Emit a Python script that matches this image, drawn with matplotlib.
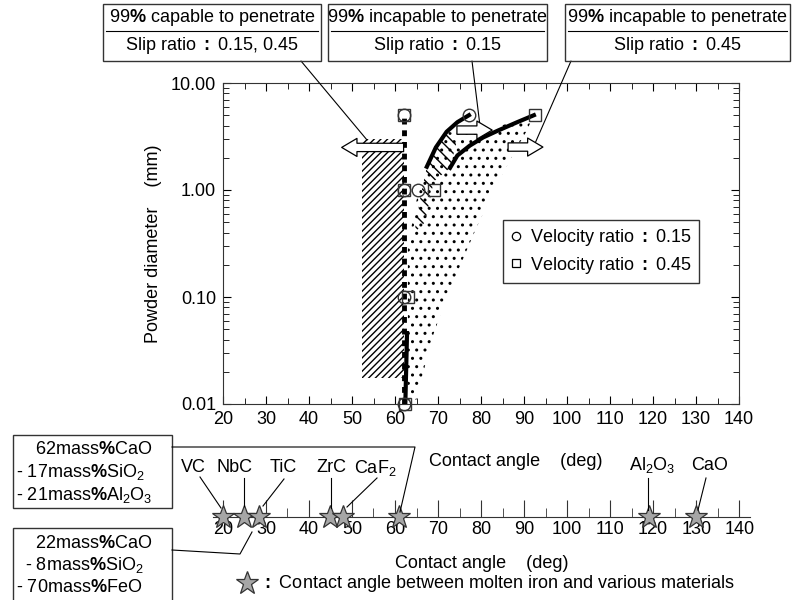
import numpy as np
import matplotlib.pyplot as plt
from matplotlib.lines import Line2D
from matplotlib.patches import Rectangle, Polygon, FancyArrowPatch

plt.rcParams['font.family'] = ['Liberation Sans', 'DejaVu Sans']
plt.rcParams['mathtext.fontset'] = 'custom'
plt.rcParams['mathtext.rm'] = 'Liberation Sans'
plt.rcParams['mathtext.it'] = 'Liberation Sans:italic'
plt.rcParams['mathtext.bf'] = 'Liberation Sans:bold'
plt.rcParams['font.size'] = 13

# measured points: contact angle (deg) vs powder diameter (mm)
circle_angle = [62, 62, 65.3, 62, 62, 77.2]
circle_diam = [5.0, 1.0, 1.0, 0.1, 0.01, 5.0]
square_angle = [62, 62, 69, 63, 62.3, 92.5]
square_diam = [5.0, 1.0, 1.0, 0.1, 0.01, 5.0]

# 99% capable boundary (both slip ratios)
capable_angle = [62, 62]
capable_diam = [0.01, 5.0]
solid_angle = [62.4, 62.8]
solid_diam = [0.01, 0.046]

# 99% incapable boundaries
curve015_angle = [67.4, 69.5, 72.0, 74.5, 77.2]
curve015_diam = [1.65, 2.5, 3.5, 4.3, 5.0]
curve045_angle = [72.8, 74.5, 77.4, 80.5, 84.0, 88.4, 92.3]
curve045_diam = [1.61, 2.1, 2.6, 3.1, 3.6, 4.3, 5.0]

# shaded regions
hatch_angle = [52.3, 62.0]
hatch_diam = [0.0175, 3.0]
stip_left_angle = [65, 63, 63, 65, 67.4, 69.5, 72.0]
stip_left_diam = [0.011, 0.011, 0.3, 0.8, 1.65, 2.5, 3.5]
stip_top_angle = [77.4, 84.0, 88.4, 92.3]
stip_top_diam = [3.3, 3.9, 4.5, 5.0]
stip_right_angle = [90.5, 87, 83, 79, 72, 68.5]
stip_right_diam = [3.5, 2.0, 1.0, 0.45, 0.1, 0.04]
back_angle = [64.5, 66, 67.4, 69.5, 72, 74.5, 72.8, 69, 67]
back_diam = [0.4, 0.9, 1.65, 2.5, 3.5, 3.0, 1.61, 1.2, 0.5]

# contact angle between molten iron and materials
materials = ['VC', 'NbC', 'TiC', 'ZrC', 'CaF$_2$', 'Al$_2$O$_3$', 'CaO']
material_angle = [20, 25, 28.5, 45, 48, 119, 130]
slag_angle = [61]

W, H = 794, 600
fig = plt.figure(figsize=(W / 100, H / 100), dpi=100)


def fx(x):
    return x / W


def fy(y):
    return 1 - y / H


def ftext(x, y, s, **kw):
    fig.text(fx(x), fy(y), s, **kw)


def fline(xs, ys, **kw):
    fig.add_artist(Line2D([fx(v) for v in xs], [fy(v) for v in ys],
                          transform=fig.transFigure, color='k', lw=0.8, **kw))


def fbox(x0, y0, x1, y1):
    fig.add_artist(Rectangle((fx(x0), fy(y1)), (x1 - x0) / W, (y1 - y0) / H,
                             transform=fig.transFigure, fill=False,
                             ec='#333333', lw=1.0))


# ---- main plot ----
ax = fig.add_axes([fx(223), fy(404), (739 - 223) / W, (404 - 83) / H])
ax.set_yscale('log')
ax.set_xlim(20, 140)
ax.set_ylim(0.01, 10)
ax.set_xticks(np.arange(20, 141, 10))
ax.set_xticks(np.arange(25, 140, 10), minor=True)
ax.set_yticks([0.01, 0.1, 1, 10])
ax.set_yticklabels(['0.01', '0.10', '1.00', '10.00'])
ax.tick_params(which='both', direction='in', top=True, right=True, labelsize=13)
ax.tick_params(which='major', length=6, pad=5)
ax.tick_params(which='minor', length=4)
for s in ax.spines.values():
    s.set_color('#333333')
ax.set_ylabel('Powder diameter    (mm)', fontsize=13, labelpad=6)

ax.add_patch(Rectangle((hatch_angle[0], hatch_diam[0]), hatch_angle[1] - hatch_angle[0],
                       hatch_diam[1] - hatch_diam[0], fill=False, hatch='/////',
                       lw=0, ec='k'))
stip = list(zip(stip_left_angle, stip_left_diam)) + list(zip(stip_top_angle, stip_top_diam)) \
    + list(zip(stip_right_angle, stip_right_diam))
ax.add_patch(Polygon(stip, closed=True, fill=False, hatch='..', lw=0, ec='k'))
ax.add_patch(Polygon(list(zip(back_angle, back_diam)), closed=True, fill=False,
                     hatch='\\\\\\', lw=0, ec='k'))

ax.plot(capable_angle, capable_diam, color='k', lw=3.5, ls=(0, (1.2, 1.2)),
        dash_capstyle='butt', zorder=3)
ax.plot(solid_angle, solid_diam, color='k', lw=3, zorder=3)
ax.plot(curve015_angle, curve015_diam, color='k', lw=3, zorder=3)
ax.plot(curve045_angle, curve045_diam, color='k', lw=3, zorder=3)

ax.plot(circle_angle, circle_diam, 'o', mfc='none', mec='#333333', ms=9, mew=1, zorder=5,
        clip_on=False)
ax.plot(square_angle, square_diam, 's', mfc='none', mec='#333333', ms=8, mew=1, zorder=5,
        clip_on=False)

arrow_style = 'simple,head_length=1.1,head_width=1.3,tail_width=0.6'
for a, b, d in [(62, 47.6, 2.5), (74.4, 82.6, 3.63), (86.3, 94.4, 2.52)]:
    ax.add_patch(FancyArrowPatch((a, d), (b, d), arrowstyle=arrow_style, mutation_scale=10,
                                 fc='white', ec='k', lw=0.9, shrinkA=0, shrinkB=0, zorder=6))

h1 = Line2D([], [], ls='none', marker='o', mfc='none', mec='k', ms=6, mew=0.9)
h2 = Line2D([], [], ls='none', marker='s', mfc='none', mec='k', ms=6, mew=0.9)
leg = ax.legend([h1, h2], [r'Velocity ratio $\mathbf{:}$ 0.15', r'Velocity ratio $\mathbf{:}$ 0.45'],
                loc='upper left', bbox_to_anchor=(fx(503), fy(220)), bbox_transform=fig.transFigure,
                fancybox=False, edgecolor='#333333', framealpha=1, fontsize=13,
                handlelength=0.6, handletextpad=0.5, borderpad=0.4, labelspacing=0.35,
                borderaxespad=0)
leg.get_frame().set_linewidth(1.0)

ftext(516, 461, 'Contact angle    (deg)', ha='center', va='center', fontsize=13)

# ---- top boxes ----
tops = [(103, 321, r'99$\mathbf{\%}$ capable to penetrate', r'Slip ratio $\mathbf{:}$ 0.15, 0.45',
         (301, 61), (53.5, 2.93)),
        (328, 547, r'99$\mathbf{\%}$ incapable to penetrate', r'Slip ratio $\mathbf{:}$ 0.15',
         (472, 61), (79.8, 3.88)),
        (565, 790, r'99$\mathbf{\%}$ incapable to penetrate', r'Slip ratio $\mathbf{:}$ 0.45',
         (571, 61), (92.6, 2.75))]
for x0, x1, t1, t2, start, end in tops:
    fbox(x0, 4, x1, 61)
    fline([x0 + 3, x1 - 3], [31, 31])
    ftext((x0 + x1) / 2, 18, t1, ha='center', va='center', fontsize=13)
    ftext((x0 + x1) / 2, 45, t2, ha='center', va='center', fontsize=13)
    ax.annotate('', xy=end, xycoords='data', xytext=(start[0], H - start[1]),
                textcoords='figure pixels',
                arrowprops=dict(arrowstyle='-', lw=0.8, color='k', shrinkA=0, shrinkB=0))

# ---- second axis: materials ----
ax2 = fig.add_axes([fx(213), fy(517), (750 - 213) / W, 30 / H])
ax2.set_xlim(17.7, 142.5)
ax2.set_ylim(0, 1)
for k in ['top', 'left', 'right']:
    ax2.spines[k].set_visible(False)
ax2.spines['bottom'].set_color('#333333')
ax2.patch.set_alpha(0)
ax2.set_yticks([])
ax2.set_xticks(np.arange(20, 141, 10))
ax2.set_xticks(np.arange(25, 140, 10), minor=True)
ax2.tick_params(which='both', direction='in', labelsize=13, color='#333333')
ax2.tick_params(which='major', length=12, pad=3)
ax2.tick_params(which='minor', length=6.5)

ax2.plot(material_angle, [0] * len(material_angle), '*', ms=17, mfc='#a6a6a6', mec='#333333',
         mew=0.9, clip_on=False, zorder=5)
ax2.plot(slag_angle, [0] * len(slag_angle), '*', ms=17, mfc='#a6a6a6', mec='#333333',
         mew=0.9, clip_on=False, zorder=5)

label_pos = [(193, 468), (234, 468), (283, 468), (331, 468), (375, 468), (652, 465), (710, 465)]
leader = [((200, 477), (221, 508)), ((244, 478), (244, 506)), ((284, 479), (263, 506)),
          ((331, 478), (331, 508)), ((377, 478), (347, 507)), ((648, 478), (648, 510)),
          ((706, 478), (698, 510))]
for name, (lx, ly), (p, q) in zip(materials, label_pos, leader):
    ftext(lx, ly, name, ha='center', va='center', fontsize=13)
    fline([p[0], q[0]], [p[1], q[1]])

ftext(482, 563, 'Contact angle    (deg)', ha='center', va='center', fontsize=13)
fig.add_artist(Line2D([fx(247)], [fy(583)], transform=fig.transFigure, marker='*', ms=17,
                      mfc='#a6a6a6', mec='#333333', mew=0.9, ls='none'))
ftext(262, 583, r'$\mathbf{:}$ Contact angle between molten iron and various materials',
      ha='left', va='center', fontsize=13)

# ---- slag boxes ----
fbox(13, 435, 172, 508)
ftext(35, 450, r'62mass$\mathbf{\%}$CaO', ha='left', va='center', fontsize=13)
ftext(16, 472, r'- 17mass$\mathbf{\%}$SiO$_2$', ha='left', va='center', fontsize=13)
ftext(16, 495, r'- 21mass$\mathbf{\%}$Al$_2$O$_3$', ha='left', va='center', fontsize=13)
fline([172, 415, 400], [447, 447, 512])

fbox(13, 528, 172, 610)
ftext(35, 543, r'22mass$\mathbf{\%}$CaO', ha='left', va='center', fontsize=13)
ftext(25, 565, r'- 8mass$\mathbf{\%}$SiO$_2$', ha='left', va='center', fontsize=13)
ftext(16, 587, r'- 70mass$\mathbf{\%}$FeO', ha='left', va='center', fontsize=13)
fline([172, 240, 252], [550, 554, 532])

fig.savefig('out.png', dpi=100)
